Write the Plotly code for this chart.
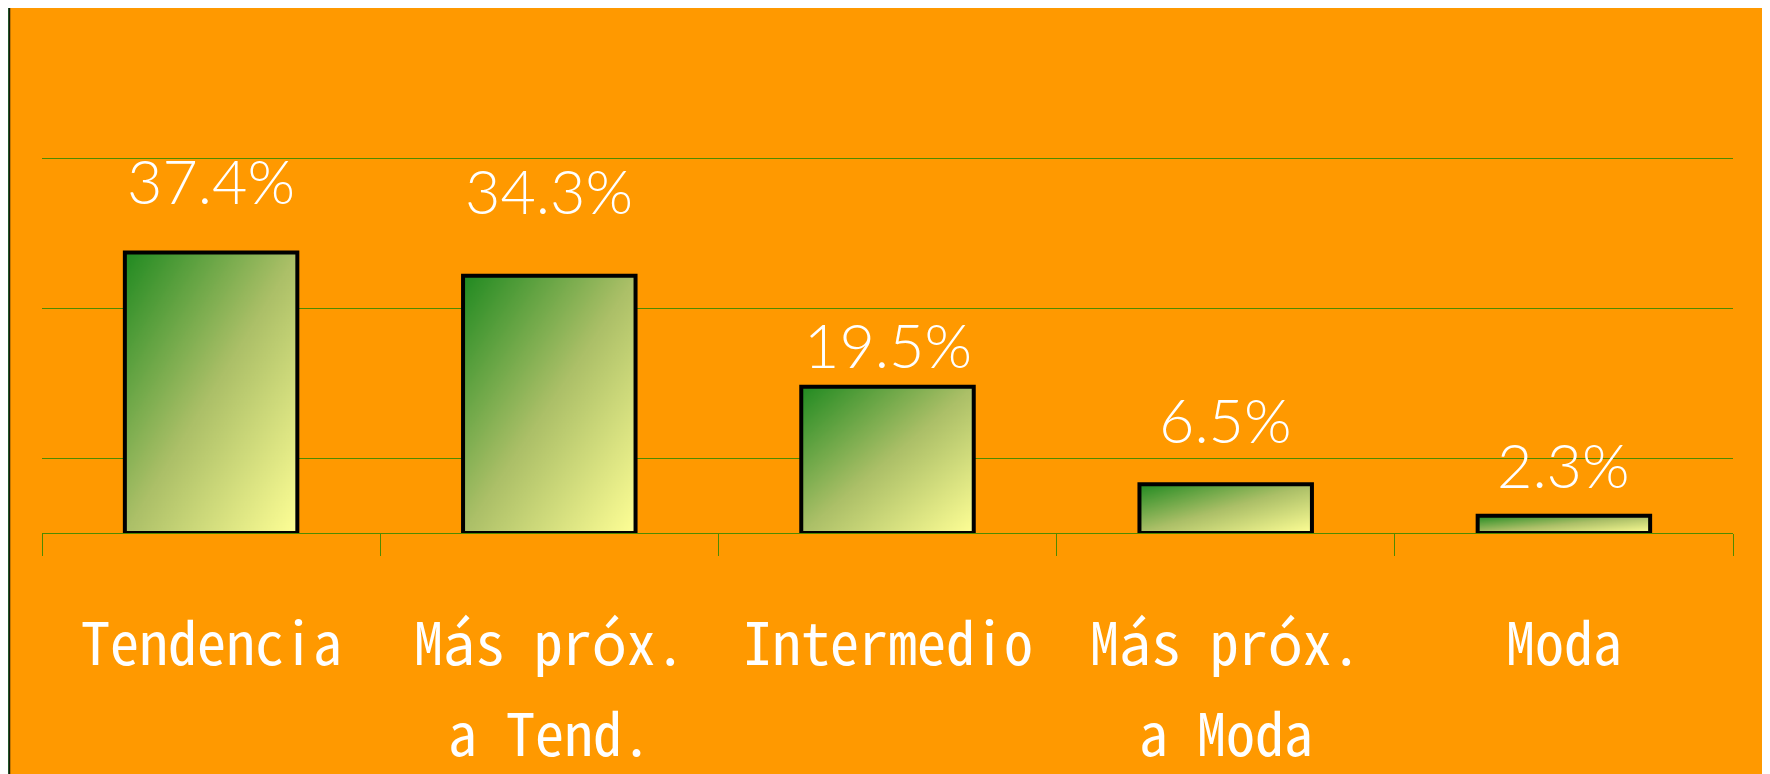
import base64
import struct
import zlib

import numpy as np
import plotly.graph_objects as go

# ---------------- data ----------------
categories = ["Tendencia", "Más próx.\na Tend.", "Intermedio", "Más próx.\na Moda", "Moda"]
percentages = [37.4, 34.3, 19.5, 6.5, 2.3]
label_texts = ["37.4%", "34.3%", "19.5%", "6.5%", "2.3%"]
grid_values = [10, 30, 50, 70]

# ---------------- style ----------------
W, H = 1770, 774
ML, MR, MT, MB = 34, 45, 0, 249
ORANGE = "#FF9900"
BORDER_GREEN = "#236C36"
GRID_GREEN = "#4f8a00"
BAR_WIDTH = 0.51
LABEL_GAP_PX = [48, 61, 18, 40, 27]  # distance from bar top to label baseline

PW = W - ML - MR
PH = H - MT - MB


def px_to_paper_x(px):
    return (px - ML) / PW


def px_to_paper_y(py):
    return (H - MB - py) / PH


def gradient_png():
    n = 128
    u = np.linspace(0, 1, n)[None, :]
    v = np.linspace(0, 1, n)[:, None]
    t = (u + v) / 2.0
    stops_t = [0.0, 0.5, 1.0]
    stops_c = np.array([[34, 139, 34], [172, 192, 104], [255, 255, 150]], dtype=float)
    img = np.zeros((n, n, 3))
    for ch in range(3):
        img[:, :, ch] = np.interp(t, stops_t, stops_c[:, ch])
    img = img.clip(0, 255).astype(np.uint8)
    raw = b"".join(b"\x00" + img[r].tobytes() for r in range(n))

    def chunk(tag, data):
        c = struct.pack(">I", len(data)) + tag + data
        return c + struct.pack(">I", zlib.crc32(tag + data) & 0xFFFFFFFF)

    png = b"\x89PNG\r\n\x1a\n"
    png += chunk(b"IHDR", struct.pack(">IIBBBBB", n, n, 8, 2, 0, 0, 0))
    png += chunk(b"IDAT", zlib.compress(raw, 9))
    png += chunk(b"IEND", b"")
    return "data:image/png;base64," + base64.b64encode(png).decode()


grad_src = gradient_png()
xs = list(range(len(categories)))

fig = go.Figure()
fig.add_trace(
    go.Bar(
        x=xs,
        y=percentages,
        width=BAR_WIDTH,
        marker=dict(color="rgba(0,0,0,0)", line=dict(width=0)),
        hoverinfo="skip",
        showlegend=False,
    )
)

images = []
shapes = []
annotations = []

# orange panel over the green paper, dark edge on its left side
shapes.append(
    dict(
        type="rect", xref="paper", yref="paper", layer="below",
        x0=px_to_paper_x(1.5), x1=px_to_paper_x(W + 20),
        y0=px_to_paper_y(H + 20), y1=px_to_paper_y(-2),
        fillcolor=ORANGE, line=dict(color="#1a1a0a", width=1.5),
    )
)

for i, (x, val) in enumerate(zip(xs, percentages)):
    images.append(
        dict(
            source=grad_src, xref="x", yref="y",
            x=x - BAR_WIDTH / 2, y=val, sizex=BAR_WIDTH, sizey=val,
            xanchor="left", yanchor="top", sizing="stretch", layer="above",
        )
    )
    shapes.append(
        dict(
            type="rect", xref="x", yref="y", layer="above",
            x0=x - BAR_WIDTH / 2, x1=x + BAR_WIDTH / 2, y0=0, y1=val,
            line=dict(color="#000000", width=4), fillcolor="rgba(0,0,0,0)",
        )
    )
    annotations.append(
        dict(
            x=x, y=val, xref="x", yref="y", text=label_texts[i],
            showarrow=False, yanchor="bottom", xanchor="center",
            yshift=LABEL_GAP_PX[i] - 14,
            font=dict(family="Lato, Roboto, sans-serif", size=61, color="white", weight=300),
        )
    )
    for j, line in enumerate(categories[i].split("\n")):
        annotations.append(
            dict(
                x=x, y=0, xref="x", yref="paper", text=line,
                showarrow=False, yanchor="top", xanchor="center",
                yshift=-63 - 91 * j,
                font=dict(family="Noto Sans Mono CJK JP, Liberation Sans, Arial, sans-serif",
                          size=58, color="white"),
            )
        )

boundaries = [x - 0.5 for x in xs] + [xs[-1] + 0.5]

fig.update_layout(
    width=W, height=H, autosize=False,
    margin=dict(l=ML, r=MR, t=MT, b=MB, pad=0),
    paper_bgcolor=BORDER_GREEN,
    plot_bgcolor="rgba(0,0,0,0)",
    showlegend=False,
    bargap=0,
    xaxis=dict(
        range=[-0.5, len(xs) - 0.5], tickmode="array", tickvals=boundaries,
        ticktext=[""] * len(boundaries), ticks="outside", ticklen=22,
        tickcolor=GRID_GREEN, tickwidth=1, showgrid=False, zeroline=False,
        showline=True, linecolor=GRID_GREEN, linewidth=1, fixedrange=True,
    ),
    yaxis=dict(
        range=[0, 70], tickmode="array", tickvals=grid_values,
        showticklabels=False, ticks="", showgrid=True, gridcolor=GRID_GREEN,
        gridwidth=1, zeroline=False, showline=False, fixedrange=True,
    ),
    images=images,
    shapes=shapes,
    annotations=annotations,
)

fig.write_html("out.html")
